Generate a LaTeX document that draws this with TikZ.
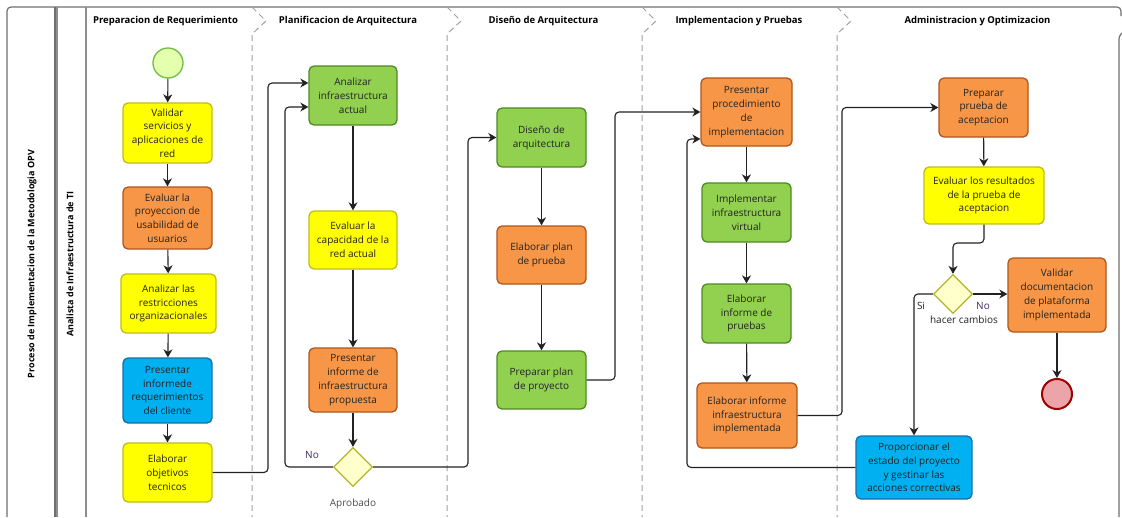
\documentclass[tikz,border=0pt]{standalone}
\usepackage{fontspec}
\setmainfont{Open Sans}
\usetikzlibrary{arrows.meta,shapes.geometric}
\definecolor{yfill}{HTML}{FFFF00}\definecolor{ydraw}{HTML}{BDBD1A}
\definecolor{ofill}{HTML}{F79646}\definecolor{odraw}{HTML}{B0561A}
\definecolor{gfill}{HTML}{92D050}\definecolor{gdraw}{HTML}{4E8A22}
\definecolor{bfill}{HTML}{00B0F0}\definecolor{bdraw}{HTML}{1A6FA8}
\definecolor{gwfill}{HTML}{FFFFCC}\definecolor{gwdraw}{HTML}{B5B52B}
\definecolor{stfill}{HTML}{E4FFAE}\definecolor{stdraw}{HTML}{6DBE45}
\definecolor{enfill}{HTML}{EBA5A8}\definecolor{endraw}{HTML}{A00000}
\definecolor{frame}{HTML}{707070}\definecolor{sep}{HTML}{A0A0A0}
\definecolor{txt}{HTML}{222222}\definecolor{lbl}{HTML}{3C2A64}
\tikzset{
  task/.style={rectangle, rounded corners=5pt, draw, line width=1.3pt, inner sep=0pt, align=center,
    text=txt, font=\fontsize{10}{13.8}\selectfont},
  ytask/.style={task, fill=yfill, draw=ydraw},
  otask/.style={task, fill=ofill, draw=odraw},
  gtask/.style={task, fill=gfill, draw=gdraw},
  btask/.style={task, fill=bfill, draw=bdraw},
  gway/.style={diamond, aspect=1, minimum size=39pt, inner sep=0pt, fill=gwfill, draw=gwdraw, line width=1.3pt},
  flow/.style={draw=txt, line width=1.1pt, rounded corners=4pt, -{Stealth[length=8pt,width=9pt,inset=2.5pt]}},
  phase/.style={font=\bfseries\fontsize{9.5}{11}\selectfont, text=black},
  sepline/.style={draw=sep, line width=1pt, dash pattern=on 6pt off 4pt},
  poolline/.style={draw=frame, line width=1.2pt},
  lab/.style={font=\fontsize{10}{11}\selectfont}
}
\begin{document}
\begin{tikzpicture}[x=1pt,y=-1pt]
\useasboundingbox[fill=white] (0,0) rectangle (1122,517);
% pool frame
\draw[poolline, rounded corners=4pt] (7,517) -- (7,7) -- (1121,7) -- (1121,16);
\draw[poolline] (55,7) -- (55,517);
\draw[poolline, draw=frame!80] (57,7) -- (57,517);
\draw[poolline, draw=frame!80] (86,7) -- (86,517);
\draw[poolline, rounded corners=3pt] (1119,517) -- (1119,36) -- (1122,33);
% phase separators
\foreach \xs in {252,447,642,837}{
  \draw[sepline] (\xs,7) -- (\xs+14,21) -- (\xs,34) -- (\xs,517);
}
% labels
\node[rotate=90, font=\bfseries\fontsize{9}{11}\selectfont] (pool) at (32,264) {Proceso de Implementacion de la Metodologia OPV};
\node[rotate=90, font=\bfseries\fontsize{9}{11}\selectfont] (lane) at (70,264) {Analista de Infraestructura de TI};
\node[phase] (h1) at (165.5,21) {Preparacion de Requerimiento};
\node[phase] (h2) at (348,21) {Planificacion de Arquitectura};
\node[phase] (h3) at (543.5,21) {Diseño de Arquitectura};
\node[phase] (h4) at (739,21) {Implementacion y Pruebas};
\node[phase] (h5) at (977.5,21) {Administracion y Optimizacion};
% lane 1
\node[circle, minimum size=30pt, inner sep=0pt, fill=stfill, draw=stdraw, line width=1.3pt] (start) at (168,63) {};
\node[ytask, minimum width=89pt, minimum height=60pt] (n1) at (167.5,133) {Validar\\servicios y\\aplicaciones de\\red};
\node[otask, minimum width=89pt, minimum height=62pt] (n2) at (167.5,218) {Evaluar la\\proyeccion de\\usabilidad de\\usuarios};
\node[ytask, minimum width=95pt, minimum height=59pt] (n3) at (168.5,303.5) {Analizar las\\restricciones\\organizacionales};
\node[btask, minimum width=89pt, minimum height=65pt] (n4) at (167.5,390.5) {Presentar\\informede\\requerimientos\\del cliente};
\node[ytask, minimum width=89pt, minimum height=59pt] (n5) at (167.5,472.5) {Elaborar\\objetivos\\tecnicos};
% lane 2
\node[gtask, minimum width=88pt, minimum height=59pt] (p1) at (353,95.5) {Analizar\\infraestructura\\actual};
\node[ytask, minimum width=88pt, minimum height=58pt] (p2) at (353,240) {Evaluar la\\capacidad de la\\red actual};
\node[otask, minimum width=88pt, minimum height=64pt] (p3) at (353,380) {Presentar\\informe de\\infraestructura\\propuesta};
\node[gway] (g1) at (353,467) {};
\node[lab, text=lbl] (no1) at (312,455) {No};
\node[lab, text=txt!80] (apr) at (353,504) {Aprobado};
% lane 3
\node[gtask, minimum width=89pt, minimum height=59pt] (d1) at (541.5,137.5) {Diseño de\\arquitectura};
\node[otask, minimum width=89pt, minimum height=58pt] (d2) at (541.5,255) {Elaborar plan\\de prueba};
\node[gtask, minimum width=89pt, minimum height=58pt] (d3) at (541.5,380) {Preparar plan\\de proyecto};
% lane 4
\node[otask, minimum width=91pt, minimum height=68pt] (i1) at (746.5,112) {Presentar\\procedimiento\\de\\implementacion};
\node[gtask, minimum width=89pt, minimum height=59pt] (i2) at (746.5,212.5) {Implementar\\infraestructura\\virtual};
\node[gtask, minimum width=89pt, minimum height=59pt] (i3) at (746.5,313.5) {Elaborar\\informe de\\pruebas};
\node[otask, minimum width=100pt, minimum height=65pt] (i4) at (747,415.5) {Elaborar informe\\infraestructura\\implementada};
% lane 5
\node[otask, minimum width=89pt, minimum height=59pt] (a1) at (983.5,107.5) {Preparar\\prueba de\\aceptacion};
\node[ytask, minimum width=120pt, minimum height=57pt] (a2) at (984,195.5) {Evaluar los resultados\\de la prueba de\\aceptacion};
\node[gway] (g2) at (953,294) {};
\node[otask, minimum width=98pt, minimum height=74pt] (a3) at (1057,295) {Validar\\documentacion\\de plataforma\\implementada};
\node[circle, minimum size=30pt, inner sep=0pt, fill=enfill, draw=endraw, line width=2pt] (end) at (1057,394) {};
\node[btask, minimum width=116pt, minimum height=63pt] (a4) at (914,467.5) {Proporcionar el\\estado del proyecto\\y gestinar las\\acciones correctivas};
\node[lab, text=txt] (si2) at (921,306) {Si};
\node[lab, text=lbl] (no2) at (983,306) {No};
\node[lab, text=txt] (hc) at (964,320) {hacer cambios};
% connectors
\draw[flow] (start) -- (n1);
\draw[flow] (n1) -- (n2);
\draw[flow] (n2) -- (n3);
\draw[flow] (n3) -- (n4);
\draw[flow] (n4) -- (n5);
\draw[flow] (n5.east) -| (268,83) -- ([yshift=12.5pt]p1.west);
\draw[flow] (p1) -- (p2);
\draw[flow] (p2) -- (p3);
\draw[flow] (p3) -- (g1);
\draw[flow] (g1.west) -| (285,107) -- ([yshift=-11.5pt]p1.west);
\draw[flow] (g1.east) -| (468,137.5) -- (d1.west);
\draw[flow] (d1) -- (d2);
\draw[flow] (d2) -- (d3);
\draw[flow] (d3.east) -| (615,112) -- (i1.west);
\draw[flow] (i1) -- (i2);
\draw[flow] (i2) -- (i3);
\draw[flow] (i3) -- (i4);
\draw[flow] (i4.east) -| (842,107.5) -- (a1.west);
\draw[flow] (a4.west) -| (687,139) -- ([yshift=-27pt]i1.west);
\draw[flow] (a1) -- (a2);
\draw[flow] (a2.south) -- (984,243) -| (g2.north);
\draw[flow] (g2.east) -- (g2.east -| a3.west);
\draw[flow] (g2.west) -| (a4.north);
\draw[flow] (a3) -- (end);
\end{tikzpicture}
\end{document}
